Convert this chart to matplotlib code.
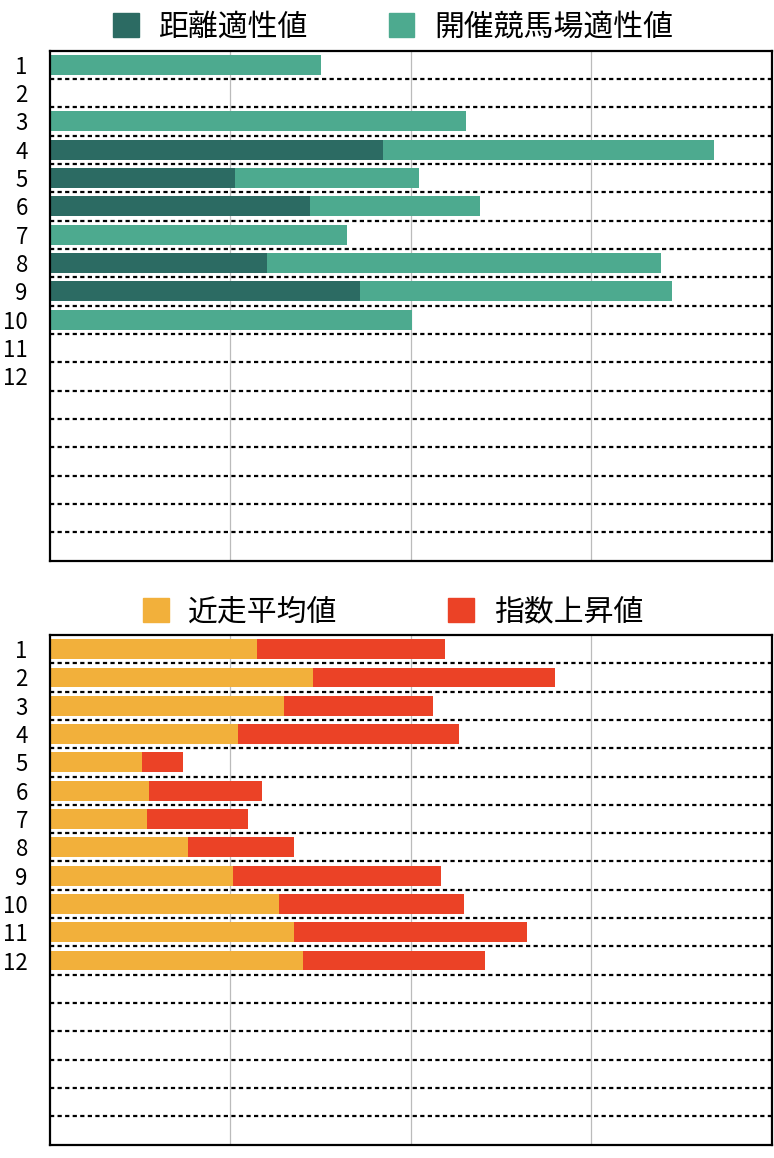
import matplotlib
matplotlib.use("Agg")
import matplotlib.pyplot as plt
from matplotlib.patches import Patch
import numpy as np

plt.rcParams['font.family'] = ['Noto Sans CJK JP', 'DejaVu Sans']

# ---- data ----
row_labels = [str(i) for i in range(1, 13)]
n_rows = 18

top_series = ["距離適性値", "開催競馬場適性値"]
distance_fit = [0, 0, 0, 46.1, 25.6, 36.0, 0, 30.0, 43.0, 0, 0, 0]
course_fit = [37.5, 0, 57.6, 45.9, 25.5, 23.5, 41.1, 54.6, 43.1, 50.1, 0, 0]

bottom_series = ["近走平均値", "指数上昇値"]
recent_avg = [28.7, 36.4, 32.4, 26.0, 12.7, 13.7, 13.4, 19.1, 25.3, 31.7, 33.8, 35.0]
index_rise = [26.0, 33.6, 20.6, 30.7, 5.7, 15.6, 14.0, 14.7, 28.8, 25.7, 32.2, 25.3]

top_colors = ["#2C6B63", "#4DAA8F"]
bottom_colors = ["#F2B03B", "#EB4226"]

W, H = 774, 1158
fig = plt.figure(figsize=(W / 100, H / 100), dpi=100)


def px_axes(left, top, right, bottom):
    return fig.add_axes([left / W, 1 - bottom / H, (right - left) / W, (bottom - top) / H])


def draw_panel(ax, a, b, colors):
    y = np.arange(len(a))
    ax.barh(y, a, height=0.7, color=colors[0], zorder=3)
    ax.barh(y, b, left=a, height=0.7, color=colors[1], zorder=3)
    ax.set_xlim(0, 100)
    ax.set_ylim(n_rows - 0.5, -0.5)
    ax.set_xticks([25, 50, 75])
    ax.set_xticklabels([])
    ax.tick_params(axis='x', length=0)
    ax.xaxis.grid(True, color="#BBBBBB", linewidth=0.9, zorder=0)
    ax.set_axisbelow(True)
    ax.set_yticks(np.arange(len(row_labels)))
    ax.set_yticklabels(row_labels, fontsize=16)
    ax.tick_params(axis='y', length=0, pad=16)
    for i in range(n_rows - 1):
        ax.axhline(i + 0.5, color="black", linewidth=1.6, linestyle=(0, (1.9, 1.5)), zorder=4)
    for s in ax.spines.values():
        s.set_linewidth(1.6)
        s.set_color("black")
        s.set_zorder(5)


ax1 = px_axes(50, 50.5, 772, 560.5)
draw_panel(ax1, distance_fit, course_fit, top_colors)
ax2 = px_axes(50, 635, 772, 1144.5)
draw_panel(ax2, recent_avg, index_rise, bottom_colors)

fs = 21.5
h1 = [Patch(color=c) for c in top_colors]
fig.legend(h1, top_series, loc='center', bbox_to_anchor=(393 / W, 1 - 27 / H), ncol=2,
           frameon=False, fontsize=fs, handlelength=0.87, handleheight=0.87,
           handletextpad=0.65, columnspacing=2.7, borderpad=0, borderaxespad=0)
h2 = [Patch(color=c) for c in bottom_colors]
fig.legend(h2, bottom_series, loc='center', bbox_to_anchor=(393 / W, 1 - 612 / H), ncol=2,
           frameon=False, fontsize=fs, handlelength=0.87, handleheight=0.87,
           handletextpad=0.65, columnspacing=3.7, borderpad=0, borderaxespad=0)

fig.savefig("out.png", dpi=100, facecolor="white")
